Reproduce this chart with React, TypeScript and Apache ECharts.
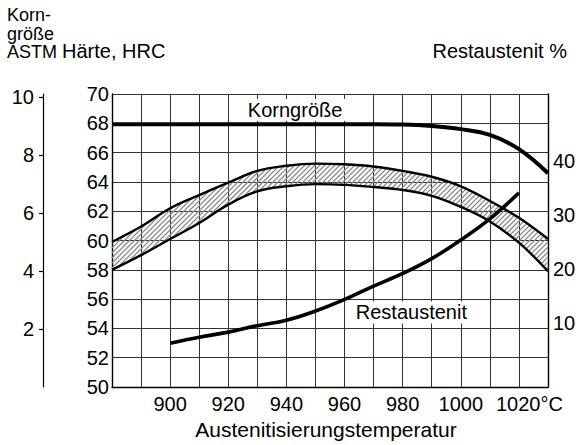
import React, { useEffect, useRef } from 'react';
import * as echarts from 'echarts';

// Austenitizing temperature (°C) grid for the hardness band and grain size
const temps = [880, 890, 900, 910, 920, 930, 940, 950, 960, 970, 980, 990, 1000, 1010, 1020, 1030];
// Hardness band, HRC (upper / lower boundary)
const hardnessUpper = [59.9, 60.95, 62.2, 63.1, 63.95, 64.75, 65.1, 65.25, 65.2, 65.05, 64.75, 64.35, 63.7, 62.7, 61.55, 60.1];
const hardnessLower = [58.0, 59.0, 60.1, 61.2, 62.45, 63.35, 63.7, 63.85, 63.8, 63.65, 63.45, 63.05, 62.3, 61.3, 59.85, 57.9];
// Grain size, ASTM
const grainSize = [9.06, 9.06, 9.06, 9.06, 9.06, 9.06, 9.06, 9.06, 9.06, 9.06, 9.05, 9.0, 8.89, 8.69, 8.2, 7.37];
// Retained austenite, %
const austeniteTemps = [900, 910, 920, 930, 940, 950, 960, 970, 980, 990, 1000, 1010, 1020];
const retainedAustenite = [6.3, 7.4, 8.35, 9.55, 10.55, 12.25, 14.4, 16.85, 19.2, 21.95, 25.4, 29.3, 34.1];

// Tick labels
const tempTickLabels = [900, 920, 940, 960, 980, 1000, 1020];
const astmTicks = [2, 4, 6, 8, 10];
const austeniteTicks = [10, 20, 30, 40];

const FONT = "'Liberation Sans', Arial, Helvetica, sans-serif";
const FS = 20;
const SMOOTH = 0.4;
const HATCH_STEP = 5;

type P = number[];

// Bezier smoothing in the same spirit as ECharts' line smoothing, sampled densely.
function densify(pts: P[], smooth: number, steps = 24): P[] {
  const n = pts.length;
  const out: P[] = [];
  const dist = (a: P, b: P) => Math.hypot(a[0] - b[0], a[1] - b[1]);
  const cpAfter = (i: number): P => {
    if (i === 0 || i === n - 1) return pts[i];
    const prev = pts[i - 1], cur = pts[i], next = pts[i + 1];
    const vx = next[0] - prev[0], vy = next[1] - prev[1];
    const lp = dist(cur, prev), ln = dist(cur, next);
    const r = ln / (ln + lp || 1);
    return [cur[0] + vx * smooth * r, cur[1] + vy * smooth * r];
  };
  const cpBefore = (i: number): P => {
    if (i === 0 || i === n - 1) return pts[i];
    const prev = pts[i - 1], cur = pts[i], next = pts[i + 1];
    const vx = next[0] - prev[0], vy = next[1] - prev[1];
    const lp = dist(cur, prev), ln = dist(cur, next);
    const r = ln / (ln + lp || 1);
    return [cur[0] - vx * smooth * (1 - r), cur[1] - vy * smooth * (1 - r)];
  };
  for (let i = 0; i < n - 1; i++) {
    const p0 = pts[i], p3 = pts[i + 1];
    const p1 = cpAfter(i), p2 = cpBefore(i + 1);
    for (let s = 0; s < steps; s++) {
      const t = s / steps, u = 1 - t;
      out.push([
        u * u * u * p0[0] + 3 * u * u * t * p1[0] + 3 * u * t * t * p2[0] + t * t * t * p3[0],
        u * u * u * p0[1] + 3 * u * u * t * p1[1] + 3 * u * t * t * p2[1] + t * t * t * p3[1],
      ]);
    }
  }
  out.push(pts[n - 1]);
  return out;
}

function yAt(poly: P[], x: number): number {
  if (x <= poly[0][0]) return poly[0][1];
  for (let i = 1; i < poly.length; i++) {
    if (poly[i][0] >= x) {
      const a = poly[i - 1], b = poly[i];
      const dx = b[0] - a[0];
      if (dx <= 0) return b[1];
      return a[1] + ((x - a[0]) / dx) * (b[1] - a[1]);
    }
  }
  return poly[poly.length - 1][1];
}

function renderHatch(_params: any, api: any) {
  const up = densify(temps.map((t, i) => api.coord([t, hardnessUpper[i]])), SMOOTH);
  const lo = densify(temps.map((t, i) => api.coord([t, hardnessLower[i]])), SMOOTH);
  const x0 = Math.max(up[0][0], lo[0][0]);
  const x1 = Math.min(up[up.length - 1][0], lo[lo.length - 1][0]);
  const dxs = 0.25;
  const xs: number[] = [];
  const yu: number[] = [];
  const yl: number[] = [];
  for (let x = x0; x <= x1 + 1e-6; x += dxs) {
    xs.push(x);
    yu.push(yAt(up, x));
    yl.push(yAt(lo, x));
  }
  let cMin = Infinity, cMax = -Infinity;
  for (let i = 0; i < xs.length; i++) {
    cMin = Math.min(cMin, xs[i] + yu[i]);
    cMax = Math.max(cMax, xs[i] + yl[i]);
  }
  const children: any[] = [];
  const start = Math.ceil(cMin / HATCH_STEP) * HATCH_STEP;
  for (let c = start; c <= cMax; c += HATCH_STEP) {
    let runStart = -1;
    for (let i = 0; i <= xs.length; i++) {
      const inside = i < xs.length && c - xs[i] >= yu[i] && c - xs[i] <= yl[i];
      if (inside && runStart < 0) runStart = i;
      if (!inside && runStart >= 0) {
        const xa = xs[runStart], xb = xs[i - 1];
        if (xb > xa) {
          children.push({
            type: 'line',
            shape: { x1: xa, y1: c - xa, x2: xb, y2: c - xb },
            style: { stroke: '#8c8c8c', lineWidth: 1.3 },
          });
        }
        runStart = -1;
      }
    }
  }
  return { type: 'group', children };
}

export default function App() {
  const ref = useRef<HTMLDivElement>(null);

  useEffect(() => {
    if (!ref.current) return;
    const chart = echarts.init(ref.current, undefined, { renderer: 'svg' });

    const lowerData = temps.map((t, i) => [t, hardnessLower[i]]);
    const upperData = temps.map((t, i) => [t, hardnessUpper[i]]);
    const grainData = temps.map((t, i) => [t, grainSize[i]]);
    const raData = austeniteTemps.map((t, i) => [t, retainedAustenite[i]]);

    const textStyle = { color: '#000', fontFamily: FONT, fontSize: FS };

    chart.setOption({
      animation: false,
      backgroundColor: '#fff',
      textStyle: { fontFamily: FONT },
      grid: { left: 112, right: 33, top: 94, bottom: 56, containLabel: false },
      xAxis: {
        type: 'value',
        min: 880,
        max: 1030,
        interval: 10,
        name: 'Austenitisierungstemperatur',
        nameLocation: 'middle',
        nameGap: 32,
        nameTextStyle: { ...textStyle, fontSize: 21, padding: [0, 8, 0, 0] },
        axisLine: { show: true, lineStyle: { color: '#000', width: 1.4 } },
        axisTick: { show: false },
        splitLine: { show: true, lineStyle: { color: '#333', width: 1 } },
        axisLabel: {
          ...textStyle,
          margin: 7,
          formatter: (v: number) => {
            if (!tempTickLabels.includes(v)) return '';
            if (v === 1020) return '{c|1020°C}';
            return String(v);
          },
          rich: {
            c: { ...textStyle, padding: [0, 0, 0, 21] },
          },
        },
      },
      yAxis: [
        {
          type: 'value',
          position: 'left',
          min: 50,
          max: 70,
          interval: 2,
          axisLine: { show: true, onZero: false, lineStyle: { color: '#000', width: 1.4 } },
          axisTick: { show: false },
          splitLine: { show: true, lineStyle: { color: '#333', width: 1 } },
          axisLabel: { ...textStyle, margin: 3 },
        },
        {
          type: 'value',
          position: 'left',
          offset: 69,
          min: 0,
          max: 10.1,
          interval: 2,
          axisLine: { show: true, onZero: false, lineStyle: { color: '#000', width: 1.2 } },
          axisTick: { show: true, length: 4, customValues: astmTicks, lineStyle: { color: '#000', width: 1.2 } },
          splitLine: { show: false },
          axisLabel: { ...textStyle, margin: 9, customValues: astmTicks },
        },
        {
          type: 'value',
          position: 'right',
          min: -1.8,
          max: 52.4,
          axisLine: { show: true, onZero: false, lineStyle: { color: '#000', width: 1.4 } },
          axisTick: { show: false },
          splitLine: { show: false },
          axisLabel: { ...textStyle, margin: 5, customValues: austeniteTicks },
        },
      ],
      graphic: [
        {
          type: 'text',
          x: 7,
          y: 6,
          style: { text: 'Korn-\ngröße\nASTM', fill: '#000', fontFamily: FONT, fontSize: 18, lineHeight: 18.5, align: 'left', verticalAlign: 'top' },
        },
        {
          type: 'text',
          x: 62,
          y: 51,
          style: { text: 'Härte, HRC', fill: '#000', fontFamily: FONT, fontSize: FS, align: 'left', verticalAlign: 'middle' },
        },
        {
          type: 'text',
          x: 567,
          y: 51,
          style: { text: 'Restaustenit %', fill: '#000', fontFamily: FONT, fontSize: FS, align: 'right', verticalAlign: 'middle' },
        },
      ],
      series: [
        {
          name: 'Härte-Streuband',
          type: 'custom',
          xAxisIndex: 0,
          yAxisIndex: 0,
          data: [[temps[0], hardnessLower[0]]],
          encode: { x: 0, y: 1 },
          renderItem: renderHatch,
          silent: true,
          z: 2,
        },
        {
          name: 'Härte max',
          type: 'line',
          yAxisIndex: 0,
          data: upperData,
          smooth: SMOOTH,
          symbol: 'none',
          lineStyle: { color: '#000', width: 2.4 },
          z: 3,
        },
        {
          name: 'Härte min',
          type: 'line',
          yAxisIndex: 0,
          data: lowerData,
          smooth: SMOOTH,
          symbol: 'none',
          lineStyle: { color: '#000', width: 2.4 },
          z: 3,
        },
        {
          name: 'Korngröße',
          type: 'line',
          yAxisIndex: 1,
          data: grainData,
          smooth: SMOOTH,
          symbol: 'none',
          lineStyle: { color: '#000', width: 4 },
          z: 4,
          markPoint: {
            symbol: 'rect',
            symbolSize: 1,
            itemStyle: { color: 'rgba(0,0,0,0)' },
            label: { show: true, position: 'inside', formatter: 'Korngröße', ...textStyle, backgroundColor: '#fff', padding: [1, 3] },
            data: [{ coord: [943, 9.55] }],
          },
        },
        {
          name: 'Restaustenit',
          type: 'line',
          yAxisIndex: 2,
          data: raData,
          smooth: SMOOTH,
          symbol: 'none',
          lineStyle: { color: '#000', width: 3.6 },
          z: 4,
          markPoint: {
            symbol: 'rect',
            symbolSize: 1,
            itemStyle: { color: 'rgba(0,0,0,0)' },
            label: { show: true, position: 'inside', formatter: 'Restaustenit', ...textStyle, backgroundColor: '#fff', padding: [1, 3] },
            data: [{ coord: [983, 12.0] }],
          },
        },
      ],
    });

    return () => chart.dispose();
  }, []);

  return (
    <div
      ref={ref}
      style={{ position: 'absolute', left: 0, top: 0, width: 581, height: 445, background: '#fff' }}
    />
  );
}
